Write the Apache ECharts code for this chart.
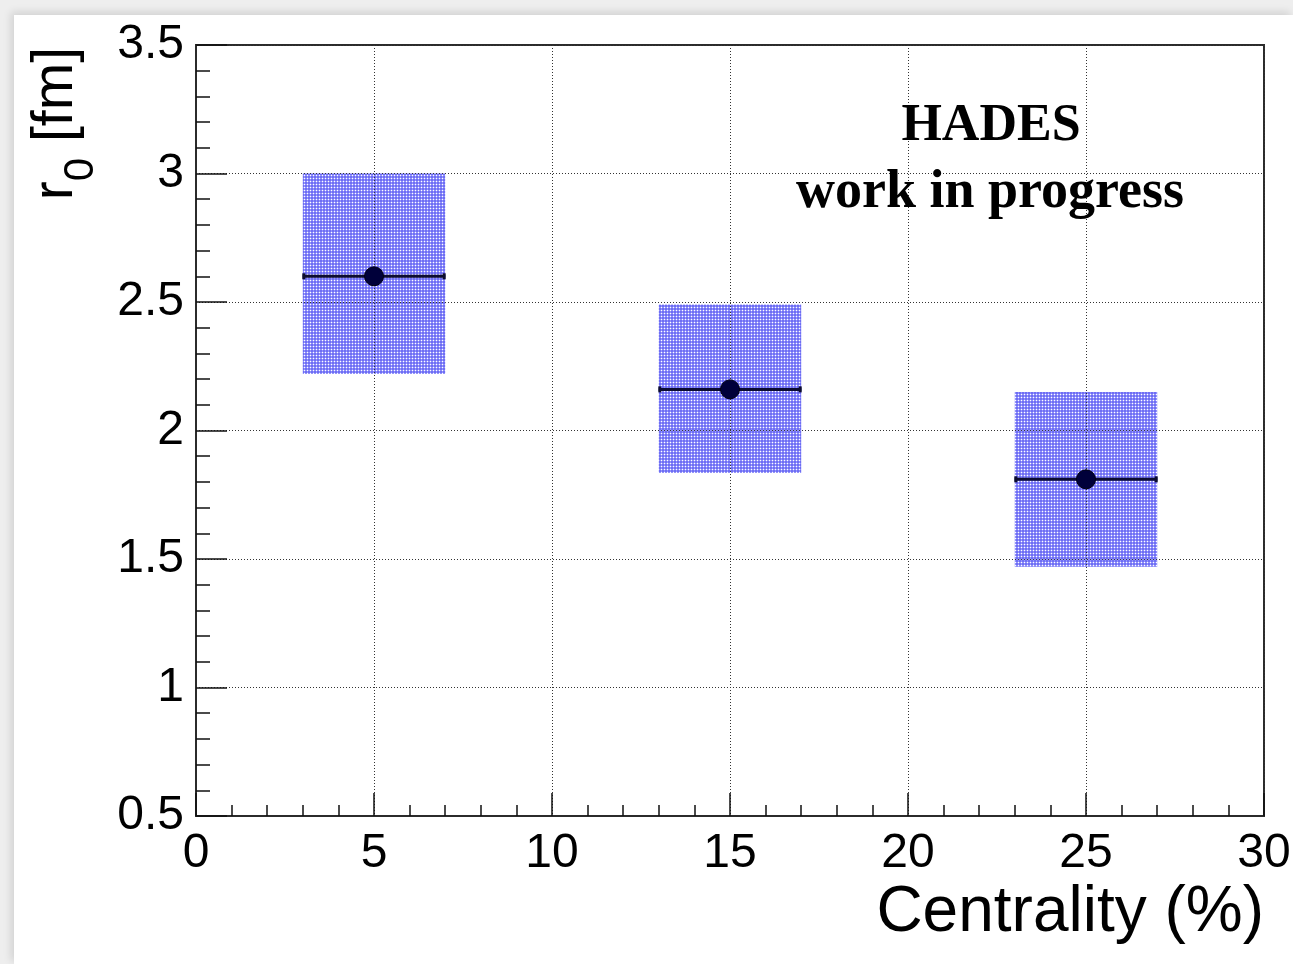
<!DOCTYPE html>
<html>
<head>
<meta charset="utf-8">
<title>HADES r0 vs centrality</title>
<script src="https://cdn.jsdelivr.net/npm/echarts@6/dist/echarts.min.js"></script>
<style>
  html, body { margin: 0; padding: 0; width: 1293px; height: 964px; overflow: hidden; background: #eeeeee; }
  #panel { position: absolute; left: 14px; top: 15px; width: 1279px; height: 949px; background: #ffffff; box-shadow: -3px -3px 8px rgba(0,0,0,0.12); }
  #chart { position: absolute; left: 0; top: 0; width: 1293px; height: 964px; }
</style>
</head>
<body>
<div id="panel"></div>
<div id="chart"></div>
<script>
// Centrality bins (bin centre, half width) and the fitted source radius r0 [fm]
const centrality = [5, 15, 25];
const binHalfWidth = [2, 2, 2];
const r0 = [2.6, 2.16, 1.81];
// Systematic uncertainty band, lower and upper edge of r0 [fm]
const sysLow = [2.22, 1.835, 1.47];
const sysHigh = [3.0, 2.49, 2.15];

// Axis ticks
const xTicks = [0, 5, 10, 15, 20, 25, 30];
const yTicks = [0.5, 1, 1.5, 2, 2.5, 3, 3.5];

// Dotted blue fill used for the systematic boxes: light-blue pixels with white dots
function makeDotPattern() {
  const c = document.createElement('canvas');
  c.width = 3; c.height = 3;
  const g = c.getContext('2d');
  g.fillStyle = '#6e6ef4'; g.fillRect(0, 0, 3, 3);
  g.fillStyle = '#9494fa'; g.fillRect(0, 1, 3, 1); g.fillRect(1, 0, 1, 3);
  g.fillStyle = '#ffffff'; g.fillRect(1, 1, 1, 1);
  return c;
}
const dotPattern = { image: makeDotPattern(), repeat: 'repeat' };

const boxData = centrality.map((c, i) => [c, sysLow[i], sysHigh[i], binHalfWidth[i]]);
const barData = centrality.map((c, i) => [c, r0[i], binHalfWidth[i]]);
const pointData = centrality.map((c, i) => [c, r0[i]]);

const tickFont = 'Liberation Sans';
const chart = echarts.init(document.getElementById('chart'), null, { renderer: 'canvas' });

chart.setOption({
  backgroundColor: 'transparent',
  animation: false,
  grid: {
    left: 196, right: 29, top: 45, bottom: 148,
    outerBoundsMode: 'none', containLabel: false,
    show: true, borderColor: '#2b2b2b', borderWidth: 2, z: 3,
    backgroundColor: 'transparent'
  },
  xAxis: {
    type: 'value', min: xTicks[0], max: xTicks[xTicks.length - 1], interval: 5,
    z: 3,
    axisLine: { show: true, lineStyle: { color: '#2b2b2b', width: 2 } },
    axisTick: { show: true, inside: true, length: 23, lineStyle: { color: '#111', width: 1.5 } },
    minorTick: { show: true, splitNumber: 5, length: 11, lineStyle: { color: '#111', width: 1.5 } },
    axisLabel: { show: true, margin: 14, fontFamily: tickFont, fontSize: 48, color: '#000' },
    splitLine: { show: true, lineStyle: { color: '#333', width: 1, type: [1, 2] } }
  },
  yAxis: {
    type: 'value', min: yTicks[0], max: yTicks[yTicks.length - 1], interval: 0.5,
    z: 3,
    name: '{m|r}{s|0}{m| [fm]}',
    nameLocation: 'end', nameGap: -2, nameRotate: 90,
    nameTextStyle: {
      align: 'right', verticalAlign: 'bottom',
      padding: [0, 0, 111, 0],
      rich: {
        m: { fontFamily: tickFont, fontSize: 57, lineHeight: 57, verticalAlign: 'top', color: '#000' },
        s: { fontFamily: tickFont, fontSize: 42, lineHeight: 42, verticalAlign: 'top', padding: [32, 0, 0, 0], color: '#000' }
      }
    },
    axisLine: { show: true, lineStyle: { color: '#2b2b2b', width: 2 } },
    axisTick: { show: true, inside: true, length: 31, lineStyle: { color: '#111', width: 1.5 } },
    minorTick: { show: true, splitNumber: 5, length: 14, lineStyle: { color: '#111', width: 1.5 } },
    axisLabel: { show: true, margin: 12, fontFamily: tickFont, fontSize: 48, color: '#000', padding: [5, 0, 0, 0] },
    splitLine: { show: true, lineStyle: { color: '#333', width: 1, type: [1, 2] } }
  },
  graphic: [
    {
      // x-axis title, right-aligned to the end of the axis
      type: 'text', x: 1264, y: 913, z: 10,
      style: { text: 'Centrality (%)', font: '64px "Liberation Sans"', fill: '#000', textAlign: 'right', textVerticalAlign: 'middle' }
    },
    {
      type: 'text', x: 991, y: 127, z: 10,
      style: { text: 'HADES', font: 'bold 52px "Liberation Serif"', fill: '#000', textAlign: 'center', textVerticalAlign: 'middle' }
    },
    {
      type: 'text', x: 990, y: 193, z: 10,
      style: { text: 'work in progress', font: 'bold 54px "Liberation Serif"', fill: '#000', textAlign: 'center', textVerticalAlign: 'middle' }
    }
  ],
  series: [
    {
      name: 'systematic',
      type: 'custom',
      z: 2,
      data: boxData,
      encode: { x: 0, y: [1, 2] },
      renderItem: function (params, api) {
        const x = api.value(0), lo = api.value(1), hi = api.value(2), dx = api.value(3);
        const p1 = api.coord([x - dx, hi]);
        const p2 = api.coord([x + dx, lo]);
        return {
          type: 'rect',
          shape: { x: p1[0], y: p1[1], width: p2[0] - p1[0], height: p2[1] - p1[1] },
          style: { fill: dotPattern, stroke: null }
        };
      }
    },
    {
      name: 'bin width',
      type: 'custom',
      z: 5,
      data: barData,
      encode: { x: 0, y: 1 },
      renderItem: function (params, api) {
        const x = api.value(0), y = api.value(1), dx = api.value(2);
        const a = api.coord([x - dx, y]);
        const b = api.coord([x + dx, y]);
        const st = { stroke: '#0c0c30', lineWidth: 3 };
        return {
          type: 'group',
          children: [
            { type: 'line', shape: { x1: a[0], y1: a[1], x2: b[0], y2: b[1] }, style: st },
            { type: 'line', shape: { x1: a[0] + 1, y1: a[1] - 3, x2: a[0] + 1, y2: a[1] + 3 }, style: st },
            { type: 'line', shape: { x1: b[0] - 1, y1: b[1] - 3, x2: b[0] - 1, y2: b[1] + 3 }, style: st }
          ]
        };
      }
    },
    {
      name: 'r0',
      type: 'scatter',
      z: 6,
      data: pointData,
      symbol: 'circle',
      symbolSize: 19,
      itemStyle: { color: '#00003a', borderColor: '#000010', borderWidth: 1, opacity: 1 }
    }
  ]
});
</script>
</body>
</html>
